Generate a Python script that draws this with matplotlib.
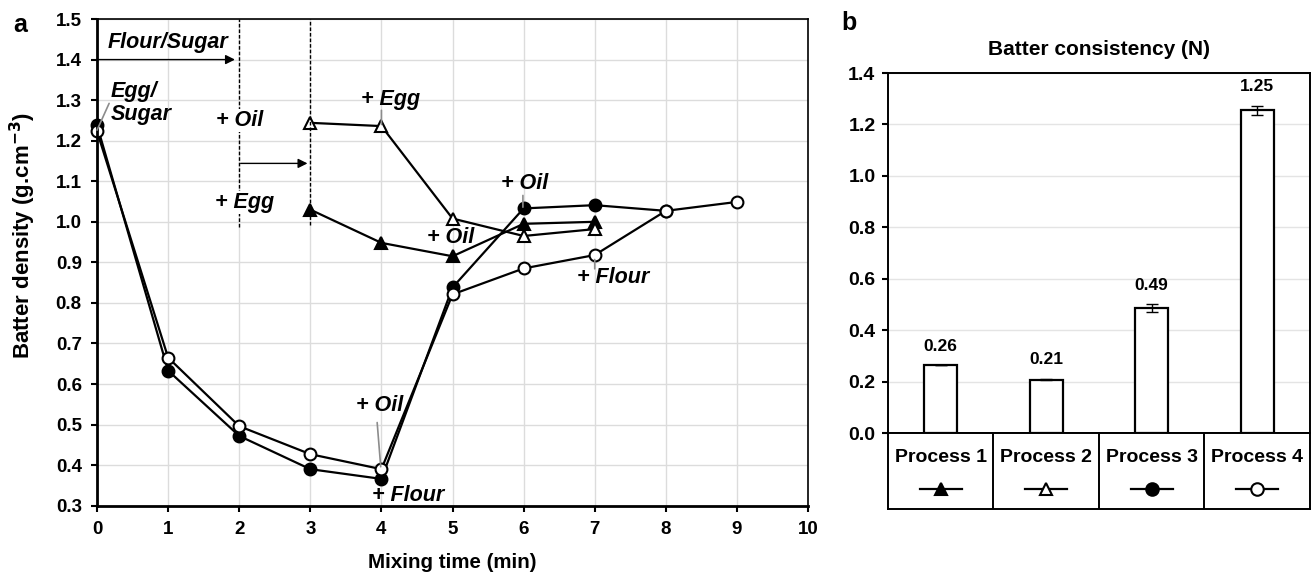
import matplotlib
matplotlib.use("Agg")
import matplotlib.pyplot as plt

plt.rcParams['font.family'] = ['Liberation Sans', 'DejaVu Sans']
plt.rcParams['font.weight'] = 'bold'
plt.rcParams['axes.labelweight'] = 'bold'

# panel a: batter density vs mixing time
t_p1 = [3, 4, 5, 6, 7]
dens_p1 = [1.03, 0.948, 0.915, 0.995, 1.0]
t_p2 = [3, 4, 5, 6, 7]
dens_p2 = [1.244, 1.236, 1.008, 0.965, 0.982]
t_p3 = [0, 1, 2, 3, 4, 5, 6, 7, 8]
dens_p3 = [1.238, 0.633, 0.472, 0.39, 0.366, 0.838, 1.033, 1.041, 1.027]
t_p4 = [0, 1, 2, 3, 4, 5, 6, 7, 8, 9]
dens_p4 = [1.223, 0.665, 0.496, 0.427, 0.39, 0.821, 0.885, 0.918, 1.027, 1.049]

# panel b: batter consistency
processes = ['Process 1', 'Process 2', 'Process 3', 'Process 4']
consistency = [0.263, 0.208, 0.485, 1.255]
consistency_err = [0.0, 0.002, 0.016, 0.017]
consistency_lbl = ['0.26', '0.21', '0.49', '1.25']

fig = plt.figure(figsize=(13.13, 5.73), dpi=100)

# ---------------- panel a ----------------
ax = fig.add_axes([0.0739, 0.1175, 0.5415, 0.8493])
ax.set_xlim(0, 10)
ax.set_ylim(0.3, 1.5)
ax.set_xticks(range(0, 11))
ax.set_yticks([0.3 + 0.1 * i for i in range(13)])
ax.set_yticklabels(['%.1f' % (0.3 + 0.1 * i) for i in range(13)])
ax.grid(True, color='#dcdcdc', lw=1)
ax.set_axisbelow(True)
for s in ['left', 'bottom']:
    ax.spines[s].set_linewidth(2)
for s in ['top', 'right']:
    ax.spines[s].set_linewidth(1.2)
ax.tick_params(labelsize=13.5, width=1.5, length=4, pad=7)
ax.set_xlabel('Mixing time (min)', fontsize=14.8, labelpad=11)
ax.set_ylabel('Batter density (g.cm$^{\\mathbf{-3}}$)', fontsize=16)
ax.yaxis.set_label_coords(-0.083, 0.555)

kw = dict(color='black', lw=1.6, mec='black', mew=1.5, clip_on=False)
ax.plot(t_p1, dens_p1, marker='^', ms=8.5, mfc='black', **kw)
ax.plot(t_p2, dens_p2, marker='^', ms=8.5, mfc='white', **kw)
ax.plot(t_p3, dens_p3, marker='o', ms=8.5, mfc='black', **kw)
ax.plot(t_p4, dens_p4, marker='o', ms=8.5, mfc='white', **kw)

# vertical step markers and arrows
ax.plot([2, 2], [0.986, 1.5], color='black', lw=1, ls=(0, (2.6, 1.4)))
ax.plot([3, 3], [0.993, 1.5], color='black', lw=1, ls=(0, (2.6, 1.4)))
arr = dict(arrowstyle='-|>', color='black', lw=1, mutation_scale=14, shrinkA=0, shrinkB=0)
ax.annotate('', xy=(1.94, 1.4), xytext=(0, 1.4), arrowprops=arr)
ax.annotate('', xy=(2.96, 1.144), xytext=(2.02, 1.144), arrowprops=arr)

tk = dict(fontsize=15.5, fontstyle='italic', fontweight='bold', ha='center', va='center')
ax.text(0.155, 1.442, 'Flour/Sugar', **dict(tk, ha='left'))
ax.text(0.19, 1.293, 'Egg/\nSugar', linespacing=1.15, **dict(tk, ha='left'))
ax.text(2.0, 1.25, '+ Oil', bbox=dict(fc='white', ec='none', pad=1), **tk)
ax.text(2.07, 1.048, '+ Egg', bbox=dict(fc='white', ec='none', pad=1), **tk)
ax.text(4.13, 1.302, '+ Egg', **tk)
ax.text(6.01, 1.094, '+ Oil', **tk)
ax.text(4.97, 0.961, '+ Oil', **tk)
ax.text(7.26, 0.863, '+ Flour', **tk)
ax.text(3.97, 0.546, '+ Oil', **tk)
ax.text(4.37, 0.326, '+ Flour', **tk)

lead = dict(arrowstyle='-', color='0.55', lw=1.2, shrinkA=0, shrinkB=0)
for p0, p1 in [((0.17, 1.292), (0.0, 1.226)), ((4.0, 1.275), (4.0, 1.24)),
               ((5.99, 1.065), (5.99, 1.036)), ((7.0, 0.907), (7.0, 0.884)),
               ((3.94, 0.505), (3.99, 0.396))]:
    ax.annotate('', xy=p1, xytext=p0, arrowprops=lead)

fig.text(0.01, 0.956, 'a', fontsize=18, fontweight='bold', va='center')

# ---------------- panel b ----------------
bx = fig.add_axes([0.6763, 0.2443, 0.3214, 0.6283])
xpos = range(len(processes))
bx.bar(xpos, consistency, width=0.31, color='white', edgecolor='black', lw=1.6,
       yerr=consistency_err, error_kw=dict(ecolor='black', elinewidth=1, capsize=4, capthick=1))
for i, v in enumerate(consistency):
    bx.text(i, v + consistency_err[i] + 0.045, consistency_lbl[i], ha='center', va='bottom',
            fontsize=12.5, fontweight='bold')
bx.set_xlim(-0.5, 3.5)
bx.set_ylim(0, 1.4)
bx.set_yticks([0.2 * i for i in range(8)])
bx.set_yticklabels(['%.1f' % (0.2 * i) for i in range(8)])
bx.set_xticks([])
bx.grid(True, axis='y', color='#e4e4e4', lw=1)
bx.set_axisbelow(True)
for s in bx.spines.values():
    s.set_linewidth(1.4)
bx.tick_params(labelsize=14, width=1.5, length=4, pad=5)
bx.set_title('Batter consistency (N)', fontsize=15, fontweight='bold', pad=13)
fig.text(0.641, 0.96, 'b', fontsize=18, fontweight='bold', va='center')

# table under bars
tb = fig.add_axes([0.6763, 0.1117, 0.3214, 0.1326])
tb.set_xlim(-0.5, 3.5)
tb.set_ylim(0, 1)
tb.set_xticks([])
tb.set_yticks([])
for s in tb.spines.values():
    s.set_linewidth(1.4)
for b in [0.5, 1.5, 2.5]:
    tb.axvline(b, color='black', lw=1.4)
styles = [('^', 'black'), ('^', 'white'), ('o', 'black'), ('o', 'white')]
for i, name in enumerate(processes):
    tb.text(i, 0.684, name, ha='center', va='center', fontsize=14, fontweight='bold')
    m, fc = styles[i]
    tb.plot([i - 0.2, i + 0.2], [0.263, 0.263], color='black', lw=1.6)
    tb.plot([i], [0.263], marker=m, ms=9, mfc=fc, mec='black', mew=1.5)

fig.savefig('out.png', dpi=100)
